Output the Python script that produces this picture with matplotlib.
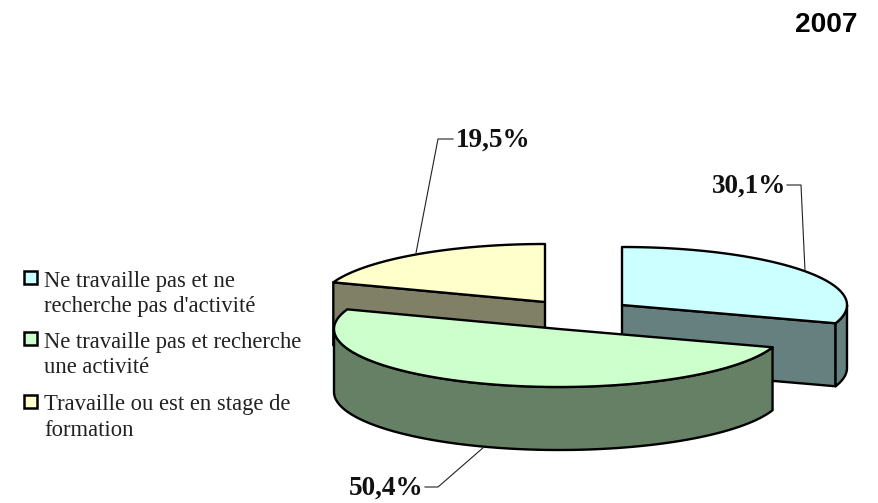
"""Exploded pseudo-3D pie, 2007 activity status."""
import numpy as np
import matplotlib
matplotlib.use('Agg')
import matplotlib.pyplot as plt
from matplotlib.patches import Polygon, Rectangle

labels = ["Ne travaille pas et ne\nrecherche pas d'activité",
          "Ne travaille pas et recherche\nune activité",
          "Travaille ou est en stage de\nformation"]
values = [30.1, 50.4, 19.5]
value_labels = ['30,1%', '50,4%', '19,5%']
top_colors = ['#ccffff', '#ccffcc', '#ffffcc']
side_colors = ['#668080', '#668066', '#808066']

# slice centres after explosion, in pixels
centers = [(622, 305), (559, 329), (545, 302)]
RX, RY, DEPTH = 225, 58, 63

fig = plt.figure(figsize=(8.79, 5.03), dpi=100)
ax = fig.add_axes([0, 0, 1, 1])
ax.set_xlim(0, 879); ax.set_ylim(503, 0); ax.axis('off')

def pt(c, th, dz=0):
    return np.column_stack([c[0] + RX*np.sin(th), c[1] - RY*np.cos(th) + dz])

def draw_slice(c, t1, t2, top, side):
    # cut faces that look toward the viewer
    for t in (t1, t2):
        s = np.sin(t)
        if (t == t1 and s < -1e-6) or (t == t2 and s > 1e-6):
            e = pt(c, np.array([t]))[0]
            ax.add_patch(Polygon([c, e, (e[0], e[1]+DEPTH), (c[0], c[1]+DEPTH)],
                                 fc=side, ec='k', lw=1.7, joinstyle='round'))
    # outer wall, front half only
    a = max(t1, np.pi/2); b = min(t2, 3*np.pi/2)
    if b > a:
        th = np.linspace(a, b, 120)
        wall = np.vstack([pt(c, th), pt(c, th[::-1], DEPTH)])
        ax.add_patch(Polygon(wall, fc=side, ec='k', lw=1.7, joinstyle='round'))
    th = np.linspace(t1, t2, 200)
    ax.add_patch(Polygon(np.vstack([[c], pt(c, th)]), fc=top, ec='k', lw=1.7, joinstyle='round'))

edges = 2*np.pi*np.cumsum([0] + values)/sum(values)
# back slice first, green in front
for i in (2, 0, 1):
    draw_slice(centers[i], edges[i], edges[i+1], top_colors[i], side_colors[i])

# leader lines
LC = '#222222'
ax.plot([787, 801, 805], [185, 185, 271], color=LC, lw=0.8)
ax.plot([453, 438, 416], [139, 139, 253], color=LC, lw=0.8)
ax.plot([425, 438, 484], [487, 487, 447], color=LC, lw=0.8)

lab_kw = dict(family='Liberation Serif', fontweight='bold', fontsize=19.5,
              ha='center', va='baseline', color='#111111')
ax.text(749, 193, value_labels[0], **lab_kw)
ax.text(386, 495, value_labels[1], **lab_kw)
ax.text(493, 147, value_labels[2], **lab_kw)

# legend
swatch_y = [271, 332, 395]
text_y = [[287, 312], [348, 373], [410, 436]]
for lab, col, sy, ys in zip(labels, top_colors, swatch_y, text_y):
    ax.add_patch(Rectangle((24.5, sy), 13, 13, fc=col, ec='k', lw=1.8))
    for line, y in zip(lab.split('\n'), ys):
        ax.text(44, y, line, family='Liberation Serif', fontsize=16.3,
                ha='left', va='baseline', color='#222222')

ax.text(858, 32, '2007', family='Liberation Sans', fontweight='bold', fontsize=20.2,
        ha='right', va='baseline', color='k')

fig.savefig('out.png', dpi=100, facecolor='white')
plt.close(fig)
